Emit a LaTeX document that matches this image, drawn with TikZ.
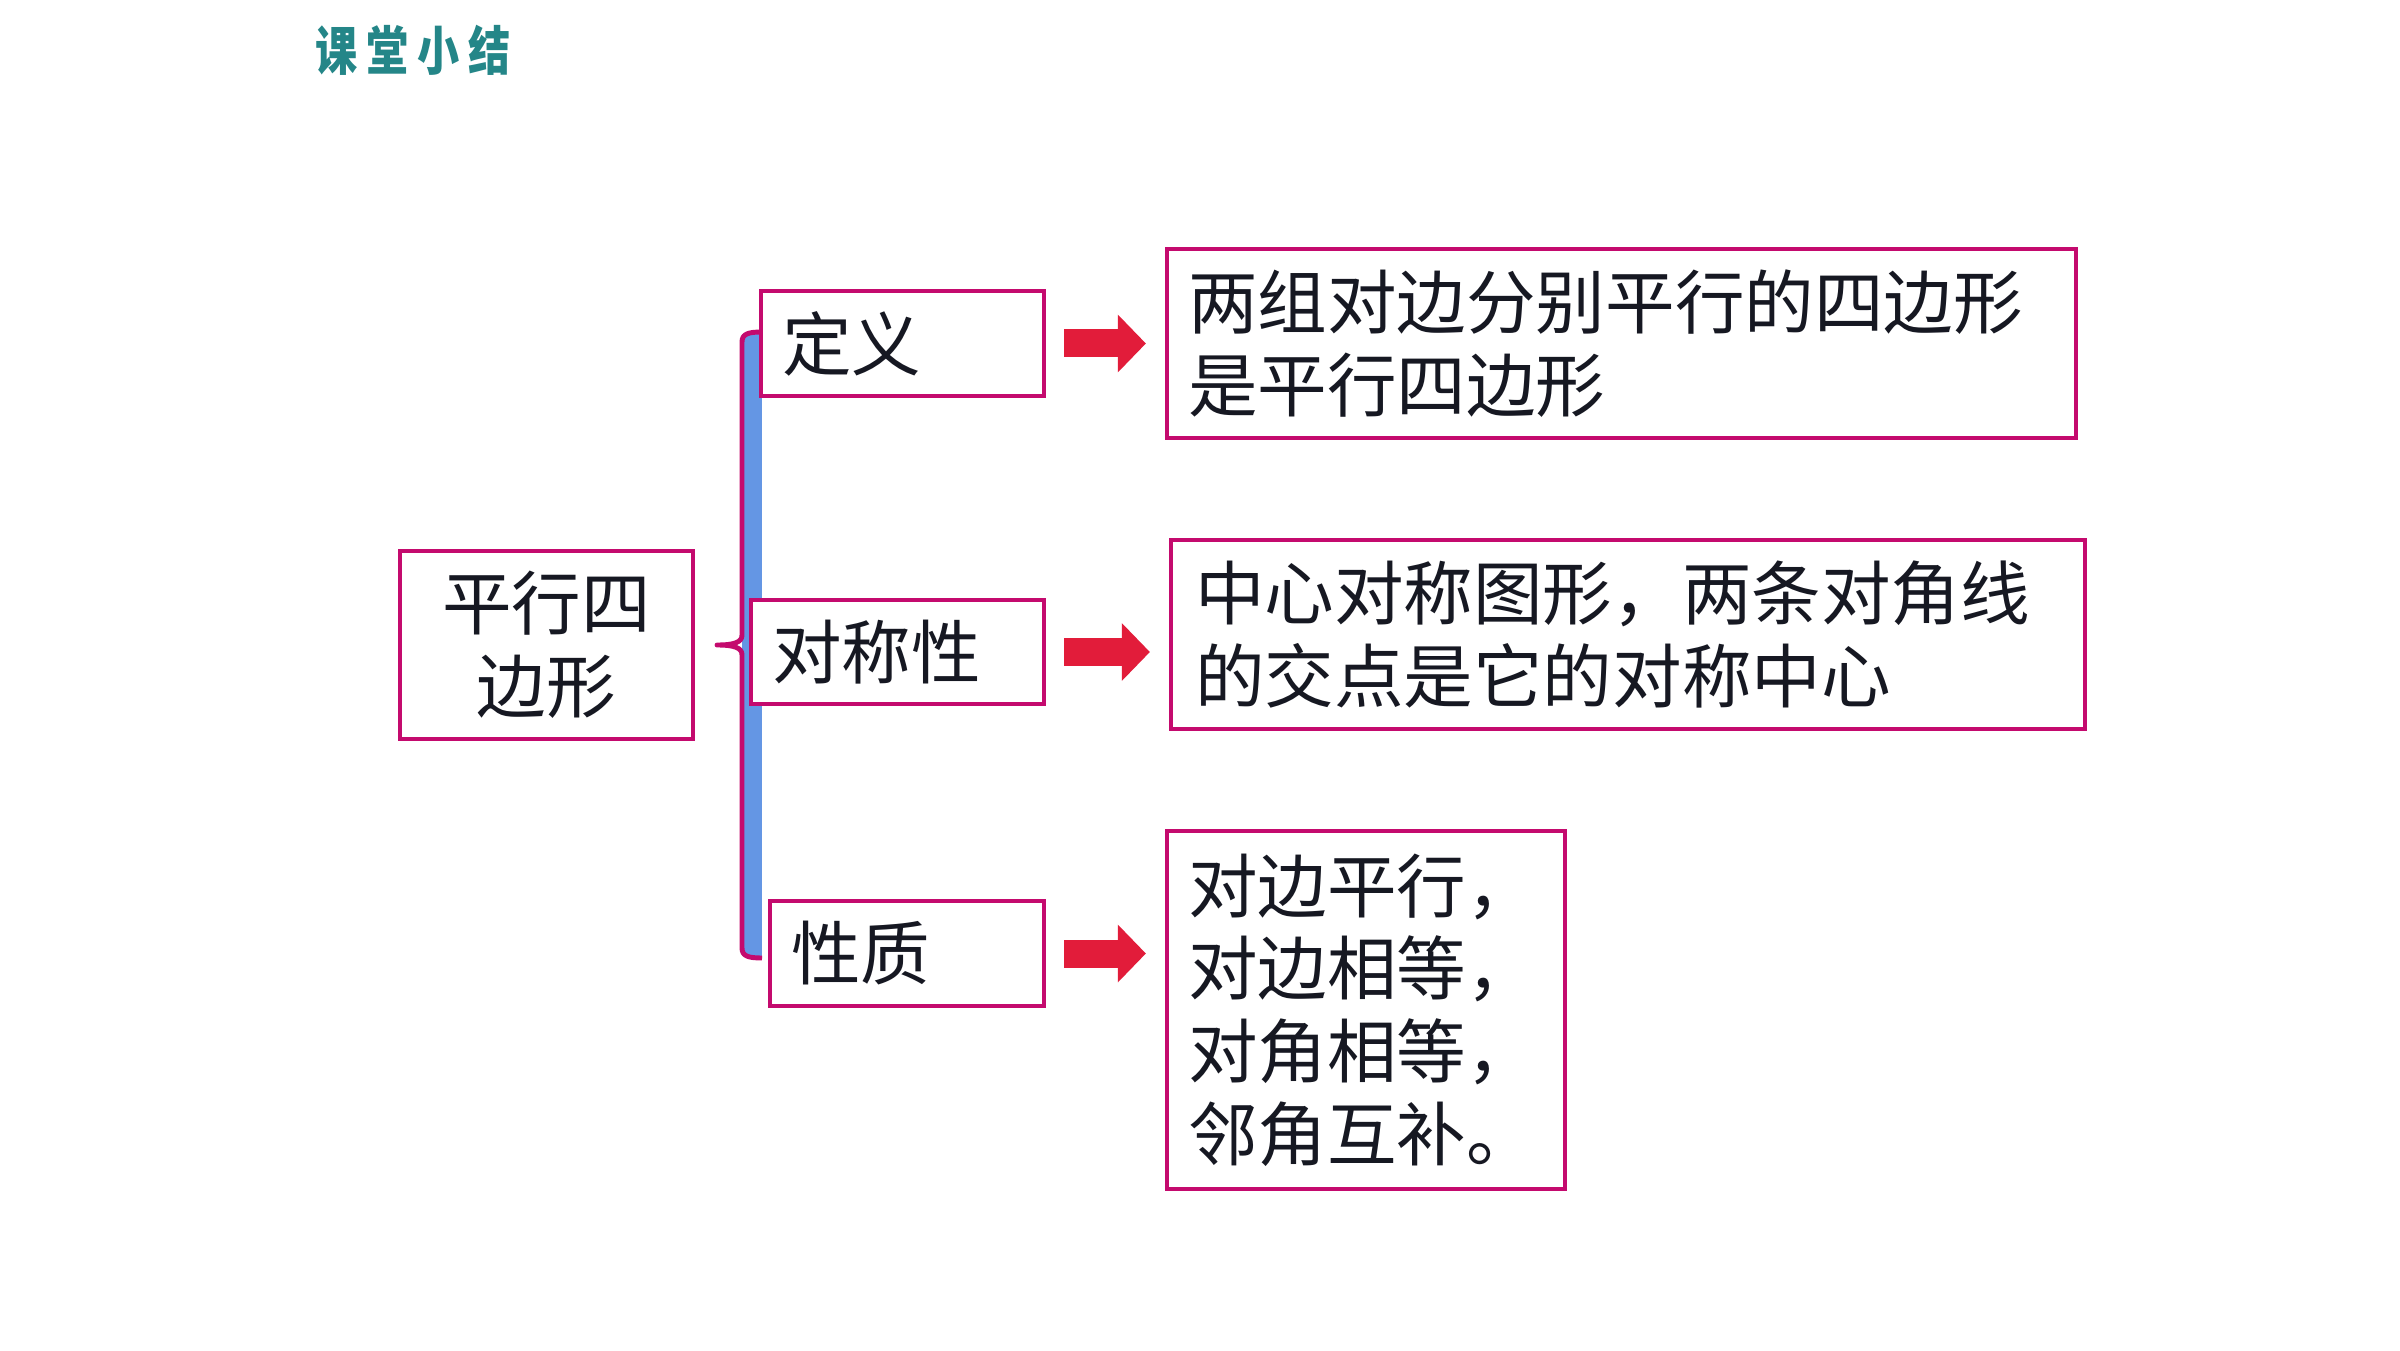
\documentclass[tikz,border=0pt]{standalone}
\usepackage{fontspec}
\usetikzlibrary{arrows.meta}
\newfontfamily\cjk{Noto Sans CJK SC}
\newfontfamily\titlefont[FakeStretch=0.8]{Noto Sans CJK SC}
\definecolor{framered}{RGB}{196,10,110}
\definecolor{bracketblue}{RGB}{100,150,228}
\definecolor{arrowred}{RGB}{226,28,58}
\definecolor{titleteal}{RGB}{36,134,136}
\definecolor{inkblack}{RGB}{22,24,34}

\tikzset{
  box/.style={draw=framered, line width=1.2pt, fill=white, text=inkblack,
    font=\cjk\fontsize{19.8pt}{23.5pt}\selectfont,
    inner xsep=0.21cm, inner ysep=0pt, align=left},
  bigarrow/.style={draw=arrowred, line width=0.28cm,
    -{Triangle[length=0.28cm, width=0.56cm]},
    shorten <=0.18cm, shorten >=0.19cm},
  bracket/.style={draw=framered, line width=1.4pt, line join=round},
}

\begin{document}
\begin{tikzpicture}
  \path[use as bounding box, fill=white] (0,0) rectangle (24,13.5);
  % Title
  \node[text=titleteal, font=\titlefont\bfseries\fontsize{15pt}{18pt}\selectfont]
    (title) at (4.13,13.0) {课\,堂\,小\,结};
  % Brace
  \fill[bracketblue] (7.42,10.16) rectangle (7.62,3.94);
  \draw[bracket] (7.62,10.18) .. controls (7.48,10.18) and (7.42,10.16) .. (7.42,10.08)
    -- (7.42,7.15) .. controls (7.42,7.08) and (7.35,7.05) .. (7.17,7.05)
    .. controls (7.35,7.05) and (7.42,7.02) .. (7.42,6.95)
    -- (7.42,4.02) .. controls (7.42,3.94) and (7.48,3.92) .. (7.62,3.92);
  % Main topic
  \node[box, align=center, minimum width=2.93cm, minimum height=1.88cm]
    (main) at (5.465,7.05) {平行四\\边形};
  % Branches
  \node[box, text width=2.41cm, minimum height=1.05cm] (def) at (9.025,10.065) {定义};
  \node[box, text width=2.51cm, minimum height=1.04cm] (sym) at (8.975,6.98) {对称性};
  \node[box, text width=2.32cm, minimum height=1.05cm] (prop) at (9.07,3.965) {性质};
  % Contents
  \node[box, text width=8.67cm, minimum height=1.89cm] (defText) at (16.215,10.065)
    {两组对边分别平行的四边形\\是平行四边形};
  \node[box, text width=8.66cm, minimum height=1.89cm, inner xsep=0.24cm] (symText) at (16.28,7.155)
    {中心对称图形，两条对角线\\的交点是它的对称中心};
  \node[box, text width=3.56cm, minimum height=3.58cm] (propText) at (13.66,3.40)
    {对边平行，\\对边相等，\\对角相等，\\邻角互补。};
  % Arrows
  \draw[bigarrow] (def.east) -- (def.east -| defText.west);
  \draw[bigarrow] (sym.east) -- (sym.east -| symText.west);
  \draw[bigarrow] (prop.east) -- (prop.east -| propText.west);
\end{tikzpicture}
\end{document}
